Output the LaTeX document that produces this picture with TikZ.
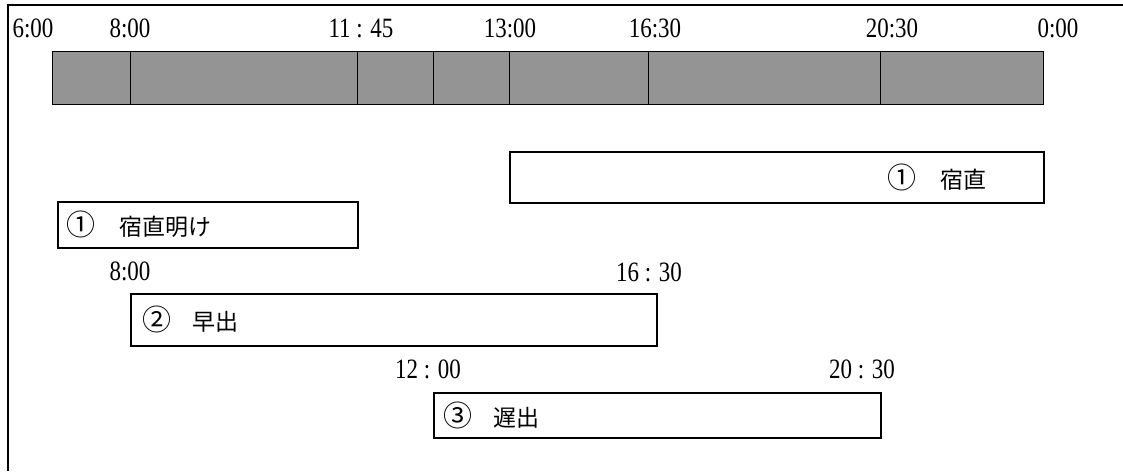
\documentclass[tikz,border=0pt]{standalone}
\usepackage{fontspec}
\setmainfont{Liberation Serif}
\newfontfamily\digits[FakeStretch=0.82]{Liberation Serif}
\newfontfamily\jp{Noto Sans CJK JP}
\newcommand\circno[1]{{\fontsize{29}{29}\selectfont#1}}

\begin{document}
\begin{tikzpicture}[x=1pt,y=-1pt,
  seg/.style={draw,line width=1.4pt,fill=black!42,minimum height=53pt,inner sep=0pt,anchor=north west},
  shift box/.style={draw,line width=1.6pt,inner sep=0pt,anchor=north west},
  time/.style={font=\digits\fontsize{28}{28}\selectfont},
  shift name/.style={font=\jp\fontsize{23}{23}\selectfont,inner sep=0pt}]
  \useasboundingbox (0,0) rectangle (1123,471);
  % FRAME
  \draw[line width=2pt] (1123,5) -- (8,5) -- (8,471);
  % BAR
  \foreach \a/\b [count=\i] in {52/130,130/357,357/433,433/509,509/648,648/880,880/1043}
    \node[seg,minimum width=\b-\a] (seg\i) at (\a,51) {};
  % TIMES
  \node[time] (t600)  at (33,28)   {6:00};
  \node[time] (t800)  at (130,28)  {8:00};
  \node[time] (t1145) at (361,28)  {11 : 45};
  \node[time] (t1300) at (510,28)  {13:00};
  \node[time] (t1630) at (655,28)  {16:30};
  \node[time] (t2030) at (892,28)  {20:30};
  \node[time] (t0000) at (1058,28) {0:00};
  % SHIFTS
  \node[shift box,minimum width=534pt,minimum height=51pt] (shuku) at (509,151) {};
  \node[shift name,anchor=east] (shukuname) at ([xshift=-58pt]shuku.east) {\circno{①}\hspace{24pt}宿直};
  \node[shift box,minimum width=300pt,minimum height=46pt] (ake) at (57,201) {};
  \node[shift name,anchor=west] (akename) at ([xshift=9pt]ake.west) {\circno{①}\hspace{24pt}宿直明け};
  \node[time] (h800)  at (130,271) {8:00};
  \node[time] (h1630) at (649,272) {16 : 30};
  \node[shift box,minimum width=526pt,minimum height=52pt] (haya) at (130,293) {};
  \node[shift name,anchor=west] (hayaname) at ([xshift=12pt]haya.west) {\circno{②}\hspace{21pt}早出};
  \node[time] (o1200) at (428,369) {12 : 00};
  \node[time] (o2030) at (862,369) {20 : 30};
  \node[shift box,minimum width=447pt,minimum height=45pt] (oso) at (433,392) {};
  \node[shift name,anchor=west] (osoname) at ([xshift=10pt]oso.west) {\circno{③}\hspace{21pt}遅出};
\end{tikzpicture}
\end{document}
